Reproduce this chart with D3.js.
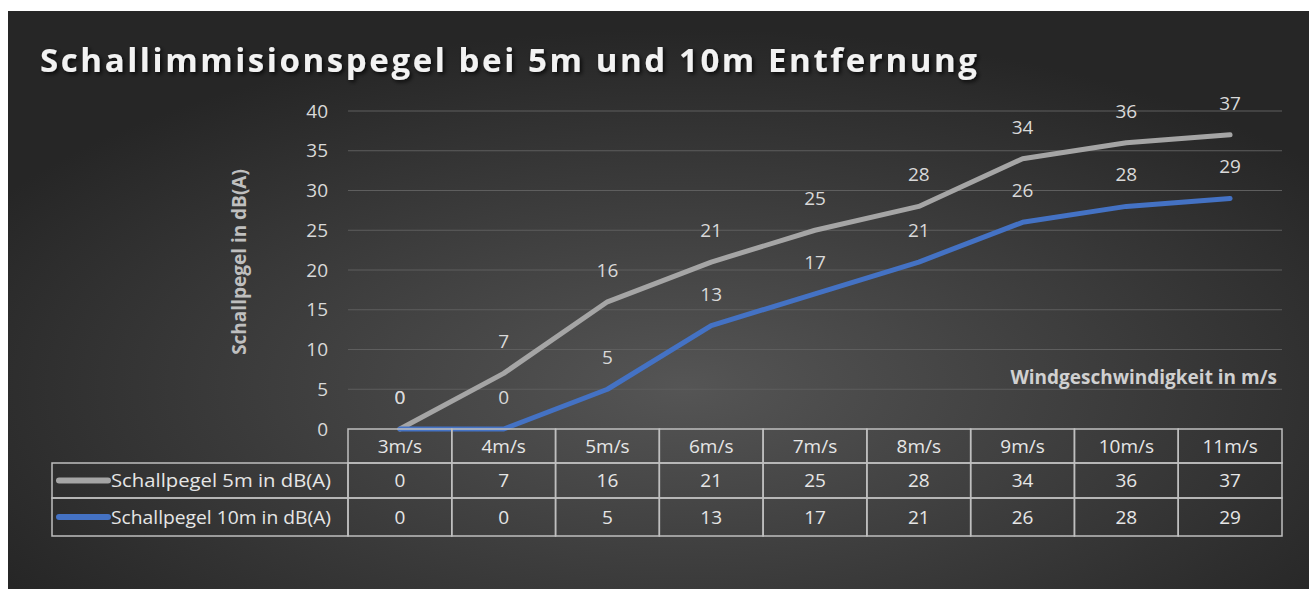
<!DOCTYPE html>
<html>
<head>
<meta charset="utf-8">
<script src="https://cdn.jsdelivr.net/npm/d3@7"></script>
<style>
  body { margin: 0; background: #fff; }
  svg text { font-family: "Open Sans", "Noto Sans", sans-serif; }
</style>
</head>
<body>
<script>
// chart data
var categories = ["3m/s", "4m/s", "5m/s", "6m/s", "7m/s", "8m/s", "9m/s", "10m/s", "11m/s"];
var seriesNames = ["Schallpegel 5m in dB(A)", "Schallpegel 10m in dB(A)"];
var pegel5m = [0, 7, 16, 21, 25, 28, 34, 36, 37];
var pegel10m = [0, 0, 5, 13, 17, 21, 26, 28, 29];
var yTicks = [0, 5, 10, 15, 20, 25, 30, 35, 40];

var W = 1309, H = 589;
var colors = ["#a5a5a5", "#4472c4"];
var series = [pegel5m, pegel10m];
var fs = 19;

var svg = d3.select("body").append("svg")
  .attr("width", W).attr("height", H);

// background with soft radial light in the middle
var defs = svg.append("defs");
var grad = defs.append("radialGradient").attr("id", "bg")
  .attr("cx", "52%").attr("cy", "65%").attr("r", "62%");
grad.append("stop").attr("offset", "0%").attr("stop-color", "#555555");
grad.append("stop").attr("offset", "100%").attr("stop-color", "#262626");
var shadow = defs.append("filter").attr("id", "shadow")
  .attr("x", "-5%").attr("y", "-20%").attr("width", "110%").attr("height", "150%");
shadow.append("feDropShadow").attr("dx", 2).attr("dy", 2)
  .attr("stdDeviation", 2).attr("flood-color", "#000").attr("flood-opacity", 0.8);

svg.append("rect").attr("x", 8).attr("y", 11)
  .attr("width", W - 8).attr("height", H - 11).attr("fill", "url(#bg)");

// title
svg.append("text")
  .attr("x", 40).attr("y", 72)
  .attr("fill", "#f2f2f2")
  .attr("font-size", 33).attr("font-weight", "bold")
  .attr("letter-spacing", 2.6)
  .attr("filter", "url(#shadow)")
  .text("Schallimmisionspegel bei 5m und 10m Entfernung");

// scales
var x = d3.scaleBand().domain(categories).range([348, 1282]);
var y = d3.scaleLinear().domain([0, 40]).range([429, 111]);
var cx = function(i) { return x(categories[i]) + x.bandwidth() / 2; };

// gridlines
svg.append("g").selectAll("line").data(yTicks.slice(1)).enter().append("line")
  .attr("x1", 348).attr("x2", 1282)
  .attr("y1", function(d) { return y(d); }).attr("y2", function(d) { return y(d); })
  .attr("stroke", "#5e5e5e").attr("stroke-width", 1);

// y axis
var yAxis = svg.append("g").attr("transform", "translate(336,0)")
  .call(d3.axisLeft(y).tickValues(yTicks).tickSize(0).tickPadding(8));
yAxis.select(".domain").remove();
yAxis.selectAll("text").attr("fill", "#d9d9d9").attr("font-size", fs)
  .attr("font-family", "'Open Sans', sans-serif");

svg.append("text")
  .attr("transform", "translate(246,262)rotate(-90)")
  .attr("text-anchor", "middle")
  .attr("fill", "#bfbfbf").attr("font-size", fs).attr("font-weight", "bold")
  .text("Schallpegel in dB(A)");

svg.append("text")
  .attr("x", 1277).attr("y", 384)
  .attr("text-anchor", "end")
  .attr("fill", "#d0d0d0").attr("font-size", fs).attr("font-weight", "bold")
  .text("Windgeschwindigkeit in m/s");

// lines
var line = d3.line()
  .x(function(d, i) { return cx(i); })
  .y(function(d) { return y(d); });

svg.append("g").selectAll("path").data(series).enter().append("path")
  .attr("d", line)
  .attr("fill", "none")
  .attr("stroke", function(d, i) { return colors[i]; })
  .attr("stroke-width", 5)
  .attr("stroke-linejoin", "round")
  .attr("stroke-linecap", "round");

// data labels above the points
series.forEach(function(s, k) {
  svg.append("g").selectAll("text").data(s).enter().append("text")
    .attr("x", function(d, i) { return cx(i); })
    .attr("y", function(d) { return y(d) - 25; })
    .attr("text-anchor", "middle")
    .attr("fill", "#d9d9d9").attr("font-size", fs)
    .text(function(d) { return d; });
});

// data table
var rowY = [429, 463, 498, 536];
var tbl = svg.append("g");
var tStroke = "#bfbfbf";

// header row cells
categories.forEach(function(c, i) {
  tbl.append("rect")
    .attr("x", x(c)).attr("y", rowY[0])
    .attr("width", x.bandwidth()).attr("height", rowY[1] - rowY[0])
    .attr("fill", "none").attr("stroke", tStroke).attr("stroke-width", 1.5);
  tbl.append("text")
    .attr("x", cx(i)).attr("y", (rowY[0] + rowY[1]) / 2)
    .attr("dy", "0.36em").attr("text-anchor", "middle")
    .attr("fill", "#e6e6e6").attr("font-size", fs)
    .text(c);
});

series.forEach(function(s, k) {
  var top = rowY[k + 1], bot = rowY[k + 2];
  tbl.append("rect")
    .attr("x", 52).attr("y", top)
    .attr("width", 348 - 52).attr("height", bot - top)
    .attr("fill", "none").attr("stroke", tStroke).attr("stroke-width", 1.5);
  tbl.append("line")
    .attr("x1", 59).attr("x2", 108)
    .attr("y1", (top + bot) / 2).attr("y2", (top + bot) / 2)
    .attr("stroke", colors[k]).attr("stroke-width", 6)
    .attr("stroke-linecap", "round");
  tbl.append("text")
    .attr("x", 111).attr("y", (top + bot) / 2)
    .attr("dy", "0.36em")
    .attr("fill", "#e6e6e6").attr("font-size", fs)
    .attr("textLength", 220).attr("lengthAdjust", "spacingAndGlyphs")
    .text(seriesNames[k]);
  s.forEach(function(v, i) {
    tbl.append("rect")
      .attr("x", x(categories[i])).attr("y", top)
      .attr("width", x.bandwidth()).attr("height", bot - top)
      .attr("fill", "none").attr("stroke", tStroke).attr("stroke-width", 1.5);
    tbl.append("text")
      .attr("x", cx(i)).attr("y", (top + bot) / 2)
      .attr("dy", "0.36em").attr("text-anchor", "middle")
      .attr("fill", "#e6e6e6").attr("font-size", fs)
      .text(v);
  });
});
</script>
</body>
</html>
